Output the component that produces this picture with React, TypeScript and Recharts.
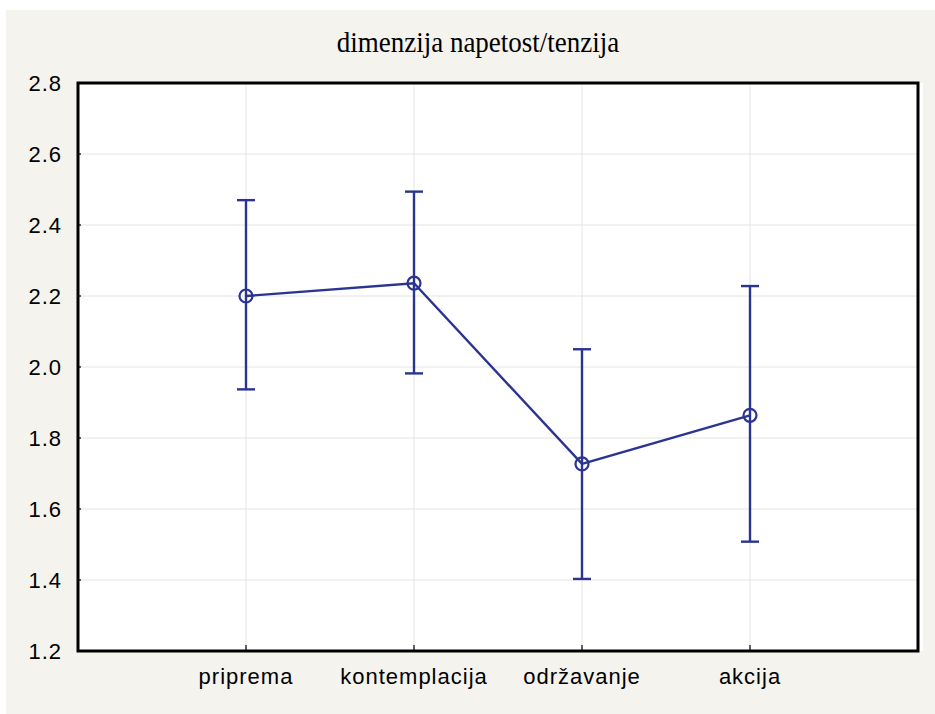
import {
  CartesianGrid,
  ErrorBar,
  Line,
  LineChart,
  ReferenceArea,
  XAxis,
  YAxis,
} from "recharts";

const categories = ["priprema", "kontemplacija", "održavanje", "akcija"];
const means = [2.2, 2.236, 1.727, 1.864];
const lowerErr = [0.263, 0.254, 0.324, 0.356];
const upperErr = [0.27, 0.258, 0.323, 0.364];
const yTicks = [1.2, 1.4, 1.6, 1.8, 2.0, 2.2, 2.4, 2.6, 2.8];
const xTicks = [1, 2, 3, 4];

const data = categories.map((name, i) => ({
  x: i + 1,
  name,
  mean: means[i],
  err: [lowerErr[i], upperErr[i]],
}));

const blue = "#2b3591";
const tickStyle = { fontFamily: "Liberation Sans, Arial, sans-serif", fontSize: 22, fill: "#000", letterSpacing: 1 };

export default function App() {
  return (
    <div style={{ position: "fixed", left: 0, top: 0, width: 935, height: 714, background: "#fff" }}>
      <div style={{ position: "absolute", left: 6, top: 10, right: 0, bottom: 0, background: "#f5f3ed" }} />
      <div style={{ position: "absolute", left: 78, top: 83, width: 845, height: 568, background: "#fff" }} />
      <div
        style={{
          position: "absolute",
          left: 278,
          width: 400,
          top: 27,
          textAlign: "center",
          fontFamily: "Liberation Serif, Times New Roman, serif",
          fontSize: 27,
          color: "#000",
          transform: "scaleY(1.08)",
        }}
      >
        dimenzija napetost/tenzija
      </div>
      <div style={{ position: "absolute", left: 0, top: 0 }}>
        <LineChart width={935} height={714} data={data} margin={{ top: 83, right: 17, bottom: 23, left: 0 }}>
          <CartesianGrid stroke="#e4e4e4" strokeWidth={1} fill="#fff" />
          <XAxis
            dataKey="x"
            type="number"
            domain={[0, 5]}
            ticks={xTicks}
            tickFormatter={(v: number) => categories[v - 1]}
            axisLine={false}
            tickLine={{ stroke: "#000", strokeWidth: 1.2 }}
            tickSize={-6}
            tickMargin={23}
            height={40}
            tick={tickStyle}
            interval={0}
          />
          <XAxis
            xAxisId="top"
            orientation="top"
            dataKey="x"
            type="number"
            domain={[0, 5]}
            ticks={xTicks}
            axisLine={false}
            tickLine={{ stroke: "#000", strokeWidth: 1.2 }}
            tickSize={-6}
            tick={false}
            height={0}
          />
          <YAxis
            type="number"
            domain={[1.2, 2.8]}
            ticks={yTicks}
            tickFormatter={(v: number) => v.toFixed(1)}
            axisLine={false}
            tickLine={{ stroke: "#000", strokeWidth: 1.2 }}
            tickSize={-3}
            tickMargin={19}
            width={78}
            tick={tickStyle}
            interval={0}
          />
          <ReferenceArea
            x1={0}
            x2={5}
            y1={1.2}
            y2={2.8}
            fill="none"
            fillOpacity={0}
            stroke="#000"
            strokeWidth={3}
            strokeOpacity={1}
            ifOverflow="visible"
          />
          <Line
            dataKey="mean"
            stroke={blue}
            strokeWidth={2.4}
            dot={{ r: 6.5, fill: "none", stroke: blue, strokeWidth: 2.2 }}
            isAnimationActive={false}
          >
            <ErrorBar dataKey="err" direction="y" width={9} stroke={blue} strokeWidth={2.4} />
          </Line>
        </LineChart>
      </div>
    </div>
  );
}
